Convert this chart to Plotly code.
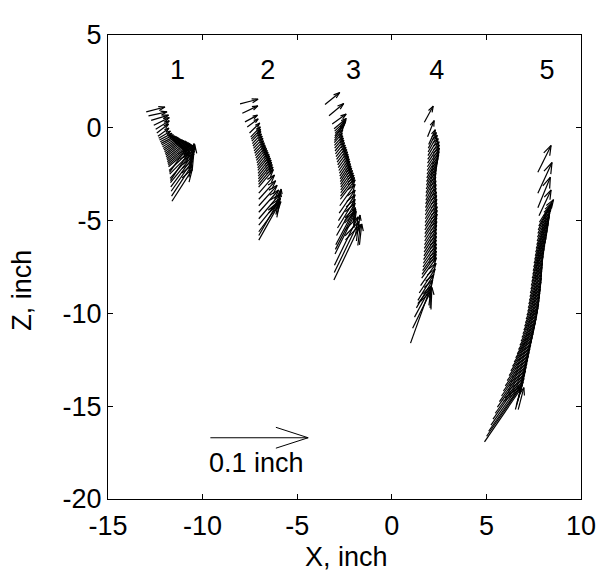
import plotly.graph_objects as go

# ---------------- data (chart units: tail point x, y and displacement u, v) ----------------
g1_x = [-12.98, -12.86, -12.72, -12.58, -12.48, -12.42, -12.36,
        -12.32, -12.28, -12.24, -12.20, -12.16, -12.12, -12.08, -12.04, -12.01, -11.98,
        -11.95, -11.93, -11.90, -11.88, -11.86, -11.84, -11.82, -11.80, -11.77, -11.74,
        -11.72, -11.70, -11.68, -11.66, -11.64, -11.62, -10.55, -10.60, -11.75, -11.70]
g1_y = [0.86, 0.64, 0.40, 0.14, -0.08, -0.28, -0.46,
        -0.56, -0.66, -0.75, -0.84, -0.93, -1.02, -1.11, -1.20, -1.29, -1.38,
        -1.47, -1.56, -1.65, -1.74, -1.83, -1.92, -2.01, -2.10, -2.30, -2.50,
        -2.72, -2.95, -3.18, -3.42, -3.68, -3.96, -2.30, -1.90, -2.40, -2.85]
g1_u = [0.99, 0.98, 0.92, 0.82, 0.72, 0.62, 0.58,
        0.62, 0.66, 0.70, 0.75, 0.78, 0.82, 0.84, 0.86, 0.89, 0.93,
        0.97, 1.03, 1.08, 1.13, 1.18, 1.22, 1.26, 1.30, 1.33, 1.32,
        1.29, 1.24, 1.18, 1.13, 1.09, 1.07, 0.13, 0.15, 0.90, 1.00]
g1_v = [0.26, 0.22, 0.28, 0.41, 0.46, 0.48, 0.44,
        0.38, 0.36, 0.37, 0.39, 0.45, 0.50, 0.55, 0.60, 0.66, 0.72,
        0.78, 0.84, 0.89, 0.94, 0.99, 1.04, 1.09, 1.15, 1.28, 1.38,
        1.47, 1.55, 1.60, 1.64, 1.68, 1.71, 1.40, 1.05, 1.30, 1.55]

g2_x = [-8.02, -7.90, -7.76, -7.64, -7.52, -7.46,
        -7.43, -7.40, -7.37, -7.34, -7.31, -7.28, -7.25, -7.22, -7.19, -7.16,
        -7.13, -7.11, -7.09, -7.08, -7.07, -7.06, -7.05, -7.05, -7.04, -7.04,
        -7.03, -7.03, -7.03, -7.03, -7.03, -7.03, -7.03, -7.03, -6.02, -5.95, -7.03]
g2_y = [1.29, 0.78, 0.32, 0.04, -0.28, -0.50,
        -0.61, -0.72, -0.85, -0.98, -1.11, -1.24, -1.37, -1.50, -1.63, -1.76,
        -1.89, -2.02, -2.16, -2.30, -2.45, -2.60, -2.75, -2.90, -3.05, -3.20,
        -3.52, -3.85, -4.20, -4.55, -4.90, -5.25, -5.60, -6.05, -4.39, -4.10, -5.80]
g2_u = [0.95, 0.82, 0.66, 0.58, 0.54, 0.51,
        0.50, 0.48, 0.48, 0.49, 0.50, 0.50, 0.51, 0.52, 0.53, 0.54,
        0.55, 0.57, 0.60, 0.62, 0.65, 0.68, 0.70, 0.73, 0.76, 0.78,
        0.83, 0.89, 0.97, 1.05, 1.11, 1.15, 1.17, 1.10, 0.12, 0.10, 1.05]
g2_v = [0.25, 0.40, 0.36, 0.44, 0.54, 0.55,
        0.53, 0.52, 0.52, 0.53, 0.54, 0.54, 0.56, 0.58, 0.61, 0.64,
        0.67, 0.70, 0.74, 0.78, 0.82, 0.86, 0.89, 0.92, 0.94, 0.95,
        0.97, 1.00, 1.10, 1.20, 1.32, 1.45, 1.62, 2.00, 1.00, 0.80, 1.85]

g3_x = [-3.53, -3.32, -3.15, -3.05, -3.02, -3.00, -3.01,
        -3.02, -3.03, -3.04, -3.03, -3.02, -3.00, -2.98, -2.95, -2.92, -2.89,
        -2.86, -2.83, -2.80, -2.77, -2.75, -2.73, -2.72, -2.71, -2.70, -2.70,
        -2.70, -2.71, -2.72, -2.75, -2.78, -2.82, -2.87, -2.92, -2.96, -3.00,
        -3.03, -3.06, -1.71, -1.80, -3.04, -2.98]
g3_y = [1.26, 0.65, 0.21, -0.05, -0.18, -0.30, -0.43,
        -0.55, -0.68, -0.80, -0.95, -1.10, -1.25, -1.40, -1.55, -1.70, -1.85,
        -2.00, -2.15, -2.30, -2.45, -2.60, -2.75, -2.90, -3.05, -3.20, -3.35,
        -3.50, -3.68, -3.85, -4.20, -4.60, -5.00, -5.40, -5.80, -6.30, -6.80,
        -7.40, -8.20, -6.31, -5.60, -7.80, -6.55]
g3_u = [0.78, 0.78, 0.74, 0.65, 0.60, 0.55, 0.50,
        0.47, 0.44, 0.42, 0.44, 0.46, 0.47, 0.48, 0.49, 0.50, 0.51,
        0.52, 0.52, 0.52, 0.52, 0.53, 0.54, 0.56, 0.59, 0.62, 0.66,
        0.70, 0.74, 0.78, 0.81, 0.84, 0.88, 0.93, 0.98, 1.04, 1.12,
        1.24, 1.40, 0.12, 0.12, 1.30, 1.08]
g3_v = [0.64, 0.66, 0.53, 0.55, 0.58, 0.60, 0.62,
        0.65, 0.58, 0.50, 0.52, 0.55, 0.58, 0.60, 0.62, 0.65, 0.68,
        0.70, 0.72, 0.75, 0.78, 0.80, 0.82, 0.85, 0.88, 0.90, 0.92,
        0.95, 1.00, 1.05, 1.15, 1.25, 1.40, 1.55, 1.75, 2.00, 2.30,
        2.60, 3.00, 1.13, 0.90, 2.75, 2.15]

g4_x = [1.72, 1.89, 1.95, 1.93, 1.92, 1.91, 1.90, 1.89, 1.88, 1.87,
        1.86, 1.85, 1.84, 1.83, 1.82, 1.81, 1.80, 1.80, 1.79, 1.78,
        1.78, 1.77, 1.77, 1.76, 1.76, 1.75, 1.75, 1.74, 1.74, 1.73,
        1.72, 1.71, 1.70, 1.68, 1.67, 1.65, 1.63, 1.60, 1.58, 1.52,
        1.45, 1.38, 1.30, 1.20, 1.10, 0.99, 2.07]
g4_y = [0.30, -0.48, -0.90, -1.10, -1.30, -1.50, -1.70, -1.90, -2.10, -2.30,
        -2.50, -2.70, -2.90, -3.10, -3.30, -3.50, -3.70, -3.90, -4.10, -4.30,
        -4.50, -4.70, -4.90, -5.10, -5.30, -5.50, -5.70, -5.90, -6.10, -6.30,
        -6.50, -6.70, -6.90, -7.10, -7.30, -7.50, -7.70, -7.90, -8.10, -8.50,
        -8.90, -9.30, -9.70, -10.20, -10.80, -11.60, -9.79]
g4_u = [0.47, 0.35, 0.35, 0.42, 0.48, 0.54, 0.60, 0.62, 0.64, 0.63,
        0.62, 0.59, 0.56, 0.54, 0.52, 0.52, 0.52, 0.53, 0.55, 0.56,
        0.58, 0.60, 0.61, 0.62, 0.64, 0.65, 0.65, 0.64, 0.64, 0.64,
        0.64, 0.65, 0.66, 0.67, 0.69, 0.71, 0.73, 0.75, 0.78, 0.82,
        0.84, 0.84, 0.86, 0.90, 0.96, 1.06, 0.05]
g4_v = [0.87, 0.87, 0.80, 0.85, 0.90, 0.92, 0.95, 0.98, 1.00, 1.02,
        1.05, 1.05, 1.05, 1.05, 1.05, 1.05, 1.05, 1.05, 1.05, 1.05,
        1.05, 1.05, 1.05, 1.05, 1.05, 1.05, 1.05, 1.05, 1.05, 1.05,
        1.05, 1.05, 1.05, 1.05, 1.05, 1.05, 1.05, 1.08, 1.10, 1.20,
        1.30, 1.40, 1.50, 1.70, 2.00, 3.00, 1.19]

g5_x = [7.72, 7.72, 7.72, 7.78, 7.80, 7.77,
        7.74, 7.72, 7.70, 7.68, 7.66, 7.63, 7.60, 7.58, 7.55, 7.52,
        7.50, 7.47, 7.45, 7.42, 7.40, 7.37, 7.35, 7.32, 7.30, 7.27,
        7.24, 7.21, 7.18, 7.14, 7.10, 7.06, 7.02, 6.98, 6.93, 6.88,
        6.83, 6.77, 6.70, 6.63, 6.55, 6.47, 6.38, 6.29, 6.20, 6.10,
        6.00, 5.90, 5.80, 5.69, 5.58, 5.47, 5.35, 5.24, 5.12, 5.01,
        4.90, 6.68]
g5_y = [-2.40, -3.52, -4.31, -4.74, -5.09, -5.30,
        -5.50, -5.70, -5.90, -6.10, -6.30, -6.50, -6.70, -6.90, -7.10, -7.30,
        -7.50, -7.70, -7.90, -8.10, -8.30, -8.50, -8.70, -8.90, -9.10, -9.30,
        -9.50, -9.70, -9.90, -10.10, -10.30, -10.50, -10.70, -10.90, -11.10, -11.30,
        -11.50, -11.72, -11.95, -12.18, -12.40, -12.62, -12.85, -13.10, -13.35, -13.62,
        -13.90, -14.18, -14.45, -14.75, -15.05, -15.38, -15.70, -16.02, -16.35, -16.62,
        -16.92, -15.18]
g5_u = [0.70, 0.75, 0.66, 0.64, 0.75, 0.70,
        0.66, 0.65, 0.64, 0.63, 0.62, 0.62, 0.62, 0.61, 0.60, 0.59,
        0.58, 0.58, 0.57, 0.57, 0.58, 0.59, 0.60, 0.61, 0.62, 0.64,
        0.66, 0.67, 0.68, 0.70, 0.72, 0.74, 0.76, 0.78, 0.79, 0.81,
        0.83, 0.85, 0.88, 0.91, 0.95, 0.99, 1.04, 1.09, 1.14, 1.20,
        1.26, 1.32, 1.38, 1.45, 1.52, 1.60, 1.67, 1.75, 1.82, 1.89,
        1.96, 0.30]
g5_v = [1.45, 1.65, 1.65, 1.39, 1.22, 1.26,
        1.30, 1.30, 1.30, 1.32, 1.35, 1.38, 1.40, 1.40, 1.40, 1.40,
        1.40, 1.40, 1.40, 1.40, 1.40, 1.40, 1.40, 1.40, 1.40, 1.40,
        1.40, 1.40, 1.40, 1.40, 1.40, 1.40, 1.40, 1.40, 1.40, 1.40,
        1.40, 1.42, 1.45, 1.48, 1.50, 1.52, 1.55, 1.60, 1.65, 1.72,
        1.80, 1.88, 1.95, 2.05, 2.15, 2.28, 2.40, 2.52, 2.65, 2.78,
        2.92, 1.18]

groups = [(g1_x, g1_y, g1_u, g1_v), (g2_x, g2_y, g2_u, g2_v), (g3_x, g3_y, g3_u, g3_v),
          (g4_x, g4_y, g4_u, g4_v), (g5_x, g5_y, g5_u, g5_v)]

group_labels = ["1", "2", "3", "4", "5"]
group_label_x = [-11.33, -6.55, -2.02, 2.38, 8.21]
group_label_y = [3.0, 3.0, 3.0, 3.0, 3.0]

# reference arrow: 0.1 inch
ref_x = [-9.59]
ref_y = [-16.70]
ref_u = [5.17]
ref_v = [0.0]
ref_text = "0.1 inch"

x_ticks = [-15, -10, -5, 0, 5, 10]
x_ticktext = ["-15", "-10", "-5", "0", "5", "10"]
y_ticks = [-20, -15, -10, -5, 0, 5]
y_ticktext = ["-20", "-15", "-10", "-5", "0", "5"]
x_title = "X, inch"
y_title = "Z, inch"

# ---------------- quiver geometry (MATLAB-style arrowheads) ----------------
ALPHA = 0.33
BETA = 0.33


def quiver_path(xs, ys, us, vs):
    px, py = [], []
    for x, y, u, v in zip(xs, ys, us, vs):
        tx, ty = x + u, y + v
        px += [x, tx, None]
        py += [y, ty, None]
        h1x = tx - ALPHA * (u + BETA * v)
        h1y = ty - ALPHA * (v - BETA * u)
        h2x = tx - ALPHA * (u - BETA * v)
        h2y = ty - ALPHA * (v + BETA * u)
        px += [h1x, tx, h2x, None]
        py += [h1y, ty, h2y, None]
    return px, py


FONT = "Arial, Liberation Sans, Helvetica, sans-serif"
FS = 27

fig = go.Figure()
for gx, gy, gu, gv in groups:
    qx, qy = quiver_path(gx, gy, gu, gv)
    fig.add_trace(go.Scatter(x=qx, y=qy, mode="lines",
                             line=dict(color="black", width=1.2),
                             hoverinfo="skip", showlegend=False))

rx, ry = quiver_path(ref_x, ref_y, ref_u, ref_v)
fig.add_trace(go.Scatter(x=rx, y=ry, mode="lines",
                         line=dict(color="black", width=1),
                         hoverinfo="skip", showlegend=False))

fig.add_trace(go.Scatter(x=group_label_x, y=group_label_y, mode="text",
                         text=group_labels, textposition="middle center",
                         textfont=dict(family=FONT, size=FS, color="black"),
                         hoverinfo="skip", showlegend=False))

fig.add_annotation(x=-9.78, y=-18.07, xref="x", yref="y", text=ref_text,
                   showarrow=False, xanchor="left", yanchor="middle",
                   font=dict(family=FONT, size=FS, color="black"))

# the page body has an 8px margin: size the figure so the plot box lands at 108..587 x 20..499
OFF = 8
W, H = 608 - OFF, 573 - OFF
L, R, T, B = 108 - OFF, 21, 20 - OFF, 74
pw, ph = W - L - R, H - T - B
bottom = H - B


def px_x(v):  # viewport px -> paper x
    return (v - OFF - L) / pw


def px_y(v):  # viewport px -> paper y
    return (bottom - (v - OFF)) / ph


fig.add_annotation(x=px_x(350), y=px_y(541), xref="paper", yref="paper",
                   text=x_title, showarrow=False, xanchor="center", yanchor="top",
                   font=dict(family=FONT, size=FS, color="black"))
fig.add_annotation(x=px_x(21), y=px_y(284), xref="paper", yref="paper",
                   text=y_title, showarrow=False, textangle=-90,
                   xanchor="center", yanchor="middle",
                   font=dict(family=FONT, size=FS, color="black"))

axis_common = dict(showgrid=False, zeroline=False, showline=True, linecolor="black",
                   linewidth=1, mirror="ticks", ticks="inside", ticklen=5,
                   tickcolor="black", tickwidth=1, ticklabeloverflow="allow",
                   tickfont=dict(family=FONT, size=FS, color="black"))

fig.update_xaxes(range=[-15, 10], tickvals=x_ticks, ticktext=x_ticktext,
                 ticklabelstandoff=3, **axis_common)
fig.update_yaxes(range=[-20, 5], tickvals=y_ticks, ticktext=y_ticktext,
                 ticklabelstandoff=0, **axis_common)

fig.update_layout(width=W, height=H, autosize=False,
                  margin=dict(l=L, r=R, t=T, b=B, pad=0),
                  plot_bgcolor="white", paper_bgcolor="white",
                  font=dict(family=FONT, size=FS, color="black"),
                  showlegend=False)

fig.write_html("out.html")
